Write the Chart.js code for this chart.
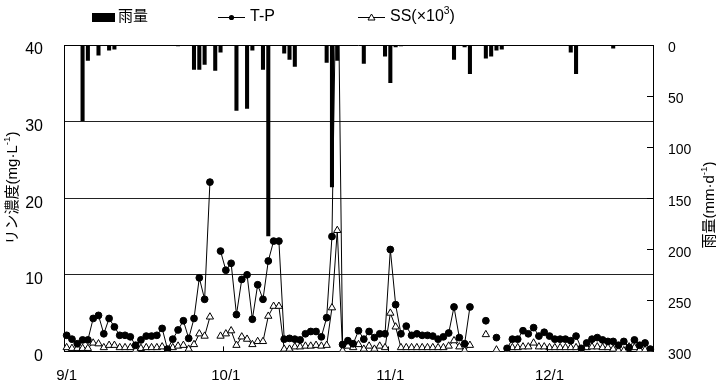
<!DOCTYPE html>
<html>
<head>
<meta charset="utf-8">
<script src="https://cdn.jsdelivr.net/npm/chart.js@4"></script>
<style>
  body { margin: 0; background: #fff; }
</style>
</head>
<body>
<canvas id="c" width="716" height="382"></canvas>
<script>
// days 9/1 .. 12/20
const months = [[9, 30], [10, 31], [11, 30], [12, 20]];
const days = [];
months.forEach(([m, n]) => { for (let d = 1; d <= n; d++) days.push(m + '/' + d); });
const monthStarts = ['9/1', '10/1', '11/1', '12/1'];

// 雨量 (mm/d)
const rain = [
  0, 0, 0, 74, 15, 0, 10, 0, 5, 4,
  0, 0, 0, 0, 0, 0, 0, 0, 0, 0,
  0, 1, 0, 0, 24, 24, 19, 0, 25, 7,
  0, 0, 64, 0, 62, 5, 0, 24, 187, 0,
  0, 8, 14, 21, 0, 0, 0, 0, 0, 17,
  139, 15, 0, 0, 0, 0, 18, 0, 0, 0,
  11, 37, 2, 1, 0, 0, 0, 0, 0, 0,
  0, 0, 0, 14, 0, 2, 28, 0, 0, 13,
  11, 5, 4, 0, 0, 0, 0, 0, 0, 0,
  0, 0, 0, 0, 0, 7, 28, 0, 0, 0,
  0, 0, 0, 3, 0, 0, 0, 0, 0, 0,
  0
];

// T-P (mg/L)
const tp = [
  2.1, 1.6, 1.0, 1.5, 1.5, 4.3, 4.7, 2.3, 4.3, 3.2,
  2.1, 2.1, 1.9, 0.8, 1.5, 2.0, 2.0, 2.1, 3.0, 0.3,
  1.6, 2.8, 4.0, 1.7, 4.3, 9.6, 6.8, 22.1, null, 13.1,
  10.6, 11.5, 4.8, 9.4, 10.0, 4.2, 8.7, 6.8, 11.8, 14.4,
  14.4, 1.6, 1.7, 1.6, 1.5, 2.3, 2.6, 2.6, 1.9, 4.4,
  15.0, 59, 0.9, 1.4, 1.0, 2.7, 1.6, 2.6, 1.8, 2.3,
  2.3, 13.3, 6.1, 2.3, 3.3, 2.1, 2.3, 2.1, 2.1, 2.0,
  1.6, 1.9, 2.4, 5.8, 1.8, 1.0, 5.8, null, null, 4.0,
  null, 1.8, null, 0.4, 1.6, 1.6, 2.7, 2.3, 3.1, 2.0,
  2.5, 2.0, 1.6, 1.6, 1.6, 1.4, 2.0, 0.4, 1.1, 1.6,
  1.8, 1.5, 1.3, 1.3, 0.8, 1.3, 0.5, 1.5, 0.8, 1.1,
  0.3
];

// SS (x10^3 mg/L)
const ss = [
  0.5, 0.4, 0.4, 0.4, 0.4, 1.1, 1.0, 0.5, 0.8, 0.8,
  0.5, 0.5, 0.5, 0.1, 0.4, 0.5, 0.5, 0.5, 0.6, 0.05,
  0.5, 0.7, 0.8, 0.3, 0.9, 2.3, 2.0, 4.5, null, 2.0,
  2.3, 2.7, 0.8, 1.9, 1.6, 0.9, 1.3, 1.3, 4.6, 5.9,
  5.9, 0.3, 0.3, 0.6, 0.6, 0.7, 0.7, 0.8, 0.7, 0.8,
  5.7, 15.8, 0.1, 0.7, 0.5, 0.9, 0.3, 0.7, 0.3, 0.7,
  0.5, 5.0, 3.2, 0.5, 0.5, 0.5, 0.5, 0.5, 0.5, 0.5,
  0.5, 0.5, 0.7, 1.4, 0.6, 0.1, 0.8, null, null, 2.2,
  null, 0.2, null, 0.0, 0.5, 0.5, 0.6, 0.6, 1.1, 0.6,
  0.6, 0.5, 0.5, 0.5, 0.5, 0.5, 0.5, 0.05, 0.5, 0.6,
  0.6, 0.5, 0.5, 0.3, 0.1, 0.1, 0.6, 0.5, 0.2, 0.2,
  0.05
];

const FONT = "'Liberation Sans', Arial, 'Noto Sans CJK JP', sans-serif";
Chart.defaults.font.family = FONT;
Chart.defaults.color = '#000';

// draw text with superscript parts, optionally rotated -90deg around (x, y)
function drawParts(ctx, x, y, parts, size, rotate) {
  ctx.save();
  ctx.translate(x, y);
  if (rotate) ctx.rotate(-Math.PI / 2);
  ctx.textBaseline = 'middle';
  ctx.textAlign = 'left';
  let w = 0;
  parts.forEach(p => {
    ctx.font = (p.sup ? size * 0.65 : size) + 'px ' + FONT;
    p.w = ctx.measureText(p.t).width;
    w += p.w;
  });
  let cx = rotate ? -w / 2 : 0;
  parts.forEach(p => {
    ctx.font = (p.sup ? size * 0.65 : size) + 'px ' + FONT;
    ctx.fillText(p.t, cx, p.sup ? -size * 0.35 : 0);
    cx += p.w;
  });
  ctx.restore();
}

const deco = {
  id: 'deco',
  afterDraw(chart) {
    const { ctx, chartArea: a, scales } = chart;
    ctx.save();
    ctx.strokeStyle = '#000';
    ctx.fillStyle = '#000';
    ctx.lineWidth = 1;

    // top frame line
    ctx.beginPath();
    ctx.moveTo(a.left, a.top + 0.5);
    ctx.lineTo(a.right, a.top + 0.5);
    ctx.stroke();

    // inner tick marks: month boundaries on x, rain axis on right
    const cw = (a.right - a.left) / days.length;
    ctx.beginPath();
    monthStarts.slice(1).forEach(m => {
      const x = Math.round(scales.x.getPixelForValue(days.indexOf(m)) - cw / 2) + 0.5;
      ctx.moveTo(x, a.bottom);
      ctx.lineTo(x, a.bottom - 5);
    });
    [50, 100, 150, 200, 250].forEach(v => {
      const y = Math.round(scales.y2.getPixelForValue(v)) + 0.5;
      ctx.moveTo(a.right - 6, y);
      ctx.lineTo(a.right, y);
    });
    ctx.stroke();

    // legend
    ctx.fillRect(92, 13, 23, 9);
    drawParts(ctx, 118, 17, [{ t: '雨量' }], 15, false);

    ctx.beginPath();
    ctx.moveTo(218, 17.5); ctx.lineTo(245, 17.5);
    ctx.moveTo(358, 17.5); ctx.lineTo(385, 17.5);
    ctx.stroke();
    ctx.beginPath();
    ctx.arc(231.5, 17.5, 2.6, 0, Math.PI * 2);
    ctx.fill();
    ctx.beginPath();
    ctx.moveTo(371.5, 14); ctx.lineTo(375, 20); ctx.lineTo(368, 20); ctx.closePath();
    ctx.fillStyle = '#fff'; ctx.fill(); ctx.stroke();
    ctx.fillStyle = '#000';
    drawParts(ctx, 250, 17, [{ t: 'T-P' }], 16, false);
    drawParts(ctx, 390, 17, [{ t: 'SS(×10' }, { t: '3', sup: true }, { t: ')' }], 16, false);

    // axis titles
    drawParts(ctx, 12.5, 188, [{ t: 'リン濃度(mg·L' }, { t: '-1', sup: true }, { t: ')' }], 15, true);
    drawParts(ctx, 710, 205, [{ t: '雨量(mm·d' }, { t: '-1', sup: true }, { t: ')' }], 15, true);
    ctx.restore();
  }
};

new Chart(document.getElementById('c'), {
  data: {
    labels: days,
    datasets: [
      {
        type: 'line', label: 'T-P', data: tp, yAxisID: 'y',
        borderColor: '#000', borderWidth: 1, tension: 0, spanGaps: false,
        pointStyle: 'circle', pointRadius: 3.4,
        pointBackgroundColor: '#000', pointBorderColor: '#000'
      },
      {
        type: 'line', label: 'SS', data: ss, yAxisID: 'y',
        borderColor: '#000', borderWidth: 1, tension: 0, spanGaps: false,
        pointStyle: 'triangle', pointRadius: 4.2, pointBorderWidth: 1,
        pointBackgroundColor: '#fff', pointBorderColor: '#000'
      },
      {
        type: 'bar', label: '雨量', data: rain, yAxisID: 'y2',
        backgroundColor: '#000', barThickness: 3.4
      }
    ]
  },
  options: {
    responsive: false,
    animation: false,
    layout: { padding: { top: 45 } },
    plugins: { legend: { display: false }, tooltip: { enabled: false } },
    scales: {
      x: {
        type: 'category',
        offset: true,
        grid: { display: false, drawTicks: false },
        border: { color: '#000' },
        ticks: {
          autoSkip: false, maxRotation: 0, minRotation: 0, padding: 15,
          font: { size: 15 },
          callback: (v, i) => monthStarts.includes(days[i]) ? days[i] : ''
        },
        afterFit: s => { s.height = 30; }
      },
      y: {
        position: 'left', min: 0, max: 40,
        grid: {
          drawTicks: false,
          color: c => (c.tick.value > 0 && c.tick.value < 40) ? '#222' : 'rgba(0,0,0,0)'
        },
        border: { color: '#000' },
        ticks: { stepSize: 10, padding: 21, labelOffset: 5, font: { size: 16 } },
        afterFit: s => { s.width = 64; }
      },
      y2: {
        position: 'right', reverse: true, min: 0, max: 300,
        grid: { drawOnChartArea: false, drawTicks: false },
        border: { color: '#000' },
        ticks: { stepSize: 50, padding: 15, labelOffset: 3.5, font: { size: 14 } },
        afterFit: s => { s.width = 63; }
      }
    }
  },
  plugins: [deco]
});
</script>
</body>
</html>
